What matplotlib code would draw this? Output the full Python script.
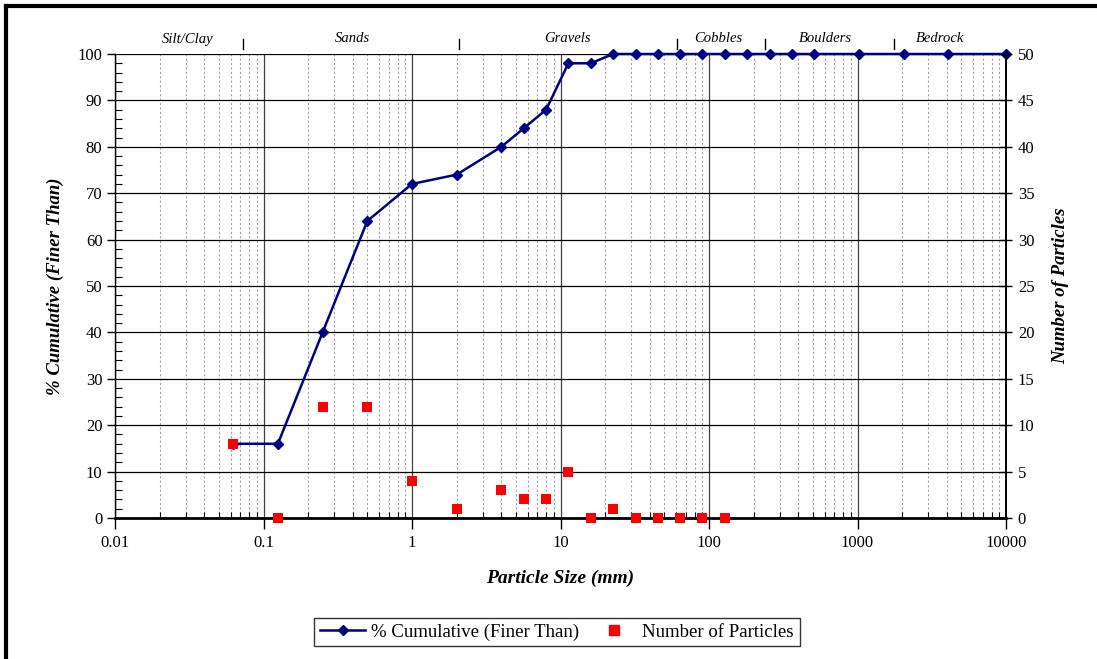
import matplotlib
matplotlib.use("Agg")
import matplotlib.pyplot as plt
from matplotlib.ticker import FixedLocator, FuncFormatter, MultipleLocator
from matplotlib.lines import Line2D
import matplotlib.transforms as mtransforms
import numpy as np

# ---- data ----
sizes_cum = [0.062, 0.125, 0.25, 0.5, 1, 2, 4, 5.66, 8, 11.3, 16, 22.6, 32, 45, 64, 90,
             128, 180, 256, 362, 512, 1024, 2048, 4096, 10000]
cum_pct = [16, 16, 40, 64, 72, 74, 80, 84, 88, 98, 98, 100, 100, 100, 100, 100,
           100, 100, 100, 100, 100, 100, 100, 100, 100]
sizes_cnt = [0.062, 0.125, 0.25, 0.5, 1, 2, 4, 5.66, 8, 11.3, 16, 22.6, 32, 45, 64, 90, 128]
counts = [8, 0, 12, 12, 4, 1, 3, 2, 2, 5, 0, 1, 0, 0, 0, 0, 0]

class_names = ["Silt/Clay", "Sands", "Gravels", "Cobbles", "Boulders", "Bedrock"]
class_label_x = [0.031, 0.40, 11.2, 115, 604, 3600]
class_sep_x = [0.073, 2.07, 61, 238, 1760]

x_ticks = [0.01, 0.1, 1, 10, 100, 1000, 10000]

plt.rcParams['font.family'] = ['Liberation Serif', 'DejaVu Serif']

W, H = 1097, 659
fig = plt.figure(figsize=(W / 100, H / 100), dpi=100)
ax = fig.add_axes([115 / W, 1 - 518 / H, (1006 - 115) / W, (518 - 54) / H])

ax.set_xscale('log')
ax.set_xlim(0.01, 10000)
ax.set_ylim(0, 100)

# grid
ax.xaxis.set_major_locator(FixedLocator(x_ticks))
minor = [m * 10.0 ** e for e in range(-2, 4) for m in range(2, 10)]
ax.xaxis.set_minor_locator(FixedLocator(minor))
ax.xaxis.set_major_formatter(FuncFormatter(lambda v, p: ('%g' % v)))
ax.xaxis.set_minor_formatter(FuncFormatter(lambda v, p: ''))
ax.yaxis.set_major_locator(MultipleLocator(10))
ax.yaxis.set_minor_locator(MultipleLocator(2))

ax.grid(True, which='major', axis='x', color='#404040', lw=0.9, ls='-')
ax.grid(True, which='minor', axis='x', color='#a0a0a0', lw=0.8, ls=(0, (2, 2)))
ax.grid(True, which='major', axis='y', color='black', lw=0.9, ls='-')
ax.set_axisbelow(True)

ax.tick_params(axis='x', which='major', direction='out', length=8, width=1, labelsize=12, pad=4)
ax.tick_params(axis='x', which='minor', direction='in', length=4, width=0.8)
ax.tick_params(axis='y', which='major', direction='out', length=6, width=1, labelsize=12, pad=3)
ax.tick_params(axis='y', which='minor', direction='in', length=5, width=0.8)

ax.spines['top'].set_visible(False)
ax.spines['bottom'].set_linewidth(2)
ax.spines['left'].set_linewidth(1)
ax.spines['right'].set_linewidth(1.2)

ax.plot(sizes_cum, cum_pct, color='#000080', lw=1.8, marker='D', ms=5.5,
        mfc='#000080', mec='#000080', zorder=3, clip_on=False,
        label='% Cumulative (Finer Than)')

ax2 = ax.twinx()
ax2.set_ylim(0, 50)
ax2.yaxis.set_major_locator(MultipleLocator(5))
ax2.tick_params(axis='y', which='major', direction='inout', length=9, width=1, labelsize=12, pad=4)
for s in ['top', 'left', 'bottom']:
    ax2.spines[s].set_visible(False)
ax2.spines['right'].set_linewidth(1.2)
ax2.scatter(sizes_cnt, counts, marker='s', s=60, color='#ff0000', zorder=4,
            clip_on=False, label='Number of Particles', linewidths=0)

ax.set_xlabel('Particle Size (mm)', fontsize=14, fontweight='bold', style='italic', labelpad=14)
ax.set_ylabel('% Cumulative (Finer Than)', fontsize=13.5, fontweight='bold', style='italic', labelpad=10)
ax2.set_ylabel('Number of Particles', fontsize=13.5, fontweight='bold', style='italic', labelpad=13)

# class labels
trans = mtransforms.blended_transform_factory(ax.transData, ax.transAxes)
for name, xv in zip(class_names, class_label_x):
    ax.text(xv, 1 + 15 / 464, name, transform=trans, ha='center', va='center',
            fontsize=10.5, style='italic')
for xv in class_sep_x:
    ax.plot([xv, xv], [1 + 5 / 464, 1 + 15 / 464], transform=trans, color='black',
            lw=1, clip_on=False)

# legend
handles = [Line2D([0], [0], color='#000080', lw=1.8, marker='D', ms=5),
           Line2D([0], [0], color='#ff0000', lw=0, marker='s', ms=7)]
leg = fig.legend(handles, ['% Cumulative (Finer Than)', 'Number of Particles'],
                 loc='center', bbox_to_anchor=(557 / W, 1 - 632 / H), ncol=2,
                 fontsize=13.5, frameon=True, fancybox=False, edgecolor='black',
                 handlelength=2.4, handletextpad=0.3, columnspacing=0.7, borderpad=0.3)
leg.get_frame().set_linewidth(1)

# outer frame (top and left)
fig.add_artist(Line2D([6 / W, 1], [1 - 6 / H, 1 - 6 / H], transform=fig.transFigure, color='black', lw=3))
fig.add_artist(Line2D([6 / W, 6 / W], [0, 1 - 6 / H], transform=fig.transFigure, color='black', lw=3))

fig.savefig('out.png', dpi=100)
